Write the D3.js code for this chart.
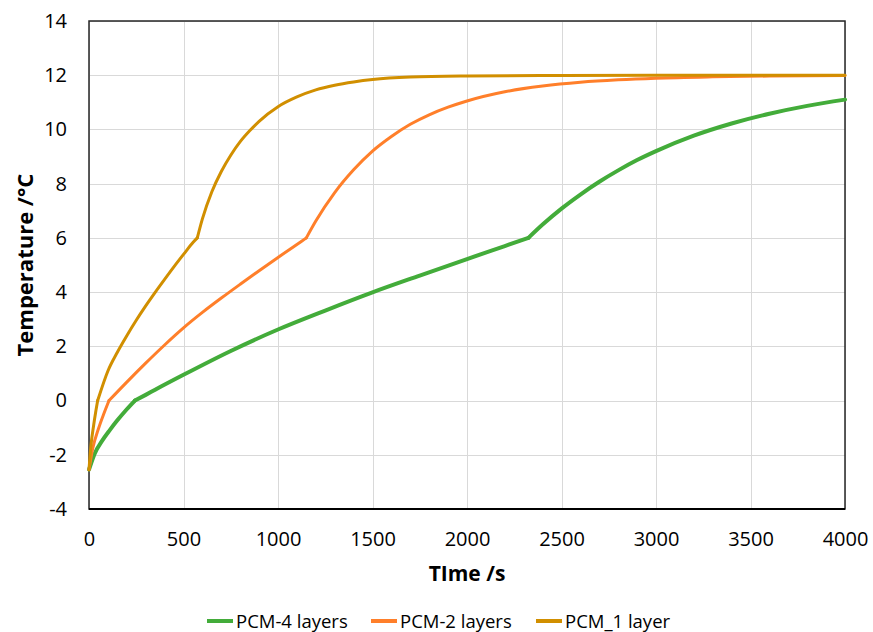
<!DOCTYPE html>
<html>
<head>
<meta charset="utf-8">
<script src="https://cdn.jsdelivr.net/npm/d3@7"></script>
<style>
  html, body { margin: 0; padding: 0; background: #fff; }
  svg { display: block; }
  text { font-family: "Open Sans", "Liberation Sans", sans-serif; fill: #000; }
</style>
</head>
<body>
<svg id="chart" width="873" height="632"></svg>
<script>
// Axis ticks
const timeTicks = [0, 500, 1000, 1500, 2000, 2500, 3000, 3500, 4000];
const tempTicks = [-4, -2, 0, 2, 4, 6, 8, 10, 12, 14];

// Each series is split into its three phases: cooling-to-melt, melting, and warm-up.
// Points are [time in s, temperature in °C].
const pcm4Heat = [[0, -2.55], [30, -1.96], [70, -1.48], [110, -1.09], [150, -0.73], [200, -0.32], [243, 0]];
const pcm4Melt = [[243, 0], [300, 0.21], [350, 0.4], [500, 0.95], [750, 1.83], [1000, 2.62], [1250, 3.32],
                  [1500, 3.99], [1750, 4.61], [2000, 5.22], [2200, 5.7], [2325, 6]];
const pcm4Warm = [[2325, 6], [2400, 6.49], [2500, 7.08], [2600, 7.6], [2700, 8.07], [2800, 8.49], [2900, 8.87],
                  [3000, 9.2], [3200, 9.77], [3400, 10.22], [3600, 10.58], [3800, 10.87], [4000, 11.1]];

const pcm2Heat = [[0, -2.55], [20, -1.76], [50, -1.04], [80, -0.46], [106, 0]];
const pcm2Melt = [[106, 0], [200, 0.68], [300, 1.38], [400, 2.05], [500, 2.68], [600, 3.25], [700, 3.78],
                  [800, 4.29], [900, 4.79], [1000, 5.28], [1100, 5.76], [1150, 6]];
const pcm2Warm = [[1150, 6], [1200, 6.62], [1300, 7.67], [1400, 8.51], [1500, 9.2], [1600, 9.74], [1700, 10.19],
                  [1800, 10.54], [1900, 10.82], [2000, 11.05], [2200, 11.39], [2400, 11.6], [2600, 11.74],
                  [2800, 11.83], [3000, 11.89], [3300, 11.94], [3600, 11.97], [4000, 11.99]];

const pcm1Heat = [[0, -2.55], [10, -1.68], [25, -0.89], [35, -0.44], [46, 0]];
const pcm1Melt = [[46, 0], [100, 1.09], [150, 1.78], [200, 2.39], [250, 2.96], [300, 3.49], [350, 3.99],
                  [400, 4.47], [450, 4.94], [500, 5.39], [550, 5.83], [573, 6]];
const pcm1Warm = [[573, 6], [600, 6.7], [650, 7.7], [700, 8.45], [750, 9.05], [800, 9.55], [850, 9.95],
                  [900, 10.3], [1000, 10.84], [1100, 11.2], [1200, 11.46], [1300, 11.63], [1400, 11.75],
                  [1500, 11.84], [1700, 11.93], [2000, 11.97], [2500, 11.99], [3000, 12], [4000, 12]];

const seriesNames = ["PCM-4 layers", "PCM-2 layers", "PCM_1 layer"];
const seriesColors = ["#43ac3a", "#ff7f2a", "#d18f00"];
const seriesWidths = [4, 3, 3];
const seriesPhases = [
  [pcm4Heat, pcm4Melt, pcm4Warm],
  [pcm2Heat, pcm2Melt, pcm2Warm],
  [pcm1Heat, pcm1Melt, pcm1Warm]
];

const svg = d3.select("#chart");
const plot = { left: 89, right: 845, top: 21, bottom: 509 };

const x = d3.scaleLinear().domain([0, 4000]).range([plot.left, plot.right]);
const y = d3.scaleLinear().domain([-4, 14]).range([plot.bottom, plot.top]);

// Plain hyphen-minus for negative numbers
const fmt = d => String(d);

// Gridlines
const grid = svg.append("g").attr("stroke", "#d9d9d9").attr("stroke-width", 1);
grid.selectAll("line.v").data(timeTicks).join("line")
  .attr("x1", d => Math.round(x(d)) + 0.5).attr("x2", d => Math.round(x(d)) + 0.5)
  .attr("y1", plot.top).attr("y2", plot.bottom);
grid.selectAll("line.h").data(tempTicks).join("line")
  .attr("y1", d => Math.round(y(d)) + 0.5).attr("y2", d => Math.round(y(d)) + 0.5)
  .attr("x1", plot.left).attr("x2", plot.right);

// Plot frame
svg.append("rect")
  .attr("x", plot.left).attr("y", plot.top)
  .attr("width", plot.right - plot.left).attr("height", plot.bottom - plot.top)
  .attr("fill", "none").attr("stroke", "#262626").attr("stroke-width", 1.5);

// Axes (labels only; the frame provides the axis lines)
const xAxis = svg.append("g")
  .attr("transform", `translate(0,${plot.bottom})`)
  .call(d3.axisBottom(x).tickValues(timeTicks).tickSize(0).tickPadding(23).tickFormat(fmt));
xAxis.select(".domain").remove();
xAxis.selectAll("text").style("font-size", "20px").attr("font-family", null);

const yAxis = svg.append("g")
  .attr("transform", `translate(${plot.left},0)`)
  .call(d3.axisLeft(y).tickValues(tempTicks).tickSize(0).tickPadding(22).tickFormat(fmt));
yAxis.select(".domain").remove();
yAxis.selectAll("text").style("font-size", "20px").attr("font-family", null);

// Bottom axis line drawn heavier
svg.append("line")
  .attr("x1", plot.left).attr("x2", plot.right)
  .attr("y1", plot.bottom).attr("y2", plot.bottom)
  .attr("stroke", "#000").attr("stroke-width", 2);

// Series lines
const line = d3.line().x(d => x(d[0])).y(d => y(d[1])).curve(d3.curveMonotoneX);
seriesPhases.forEach((phases, i) => {
  const g = svg.append("g")
    .attr("fill", "none")
    .attr("stroke", seriesColors[i])
    .attr("stroke-width", seriesWidths[i])
    .attr("stroke-linecap", "round")
    .attr("stroke-linejoin", "round");
  phases.forEach(p => g.append("path").attr("d", line(p)));
});

// Axis titles
svg.append("text")
  .attr("x", 467).attr("y", 581)
  .attr("text-anchor", "middle")
  .style("font-size", "21px").style("font-weight", "bold")
  .text("TIme /s");

svg.append("text")
  .attr("transform", "translate(33,265) rotate(-90)")
  .attr("text-anchor", "middle")
  .style("font-size", "22px").style("font-weight", "bold")
  .text("Temperature /°C");

// Legend
const legendX = [207, 371, 536];
const legend = svg.append("g");
seriesNames.forEach((name, i) => {
  legend.append("line")
    .attr("x1", legendX[i]).attr("x2", legendX[i] + 26)
    .attr("y1", 621).attr("y2", 621)
    .attr("stroke", seriesColors[i]).attr("stroke-width", 4);
  legend.append("text")
    .attr("x", legendX[i] + 29).attr("y", 627.5)
    .style("font-size", "18.5px")
    .text(name);
});
</script>
</body>
</html>
